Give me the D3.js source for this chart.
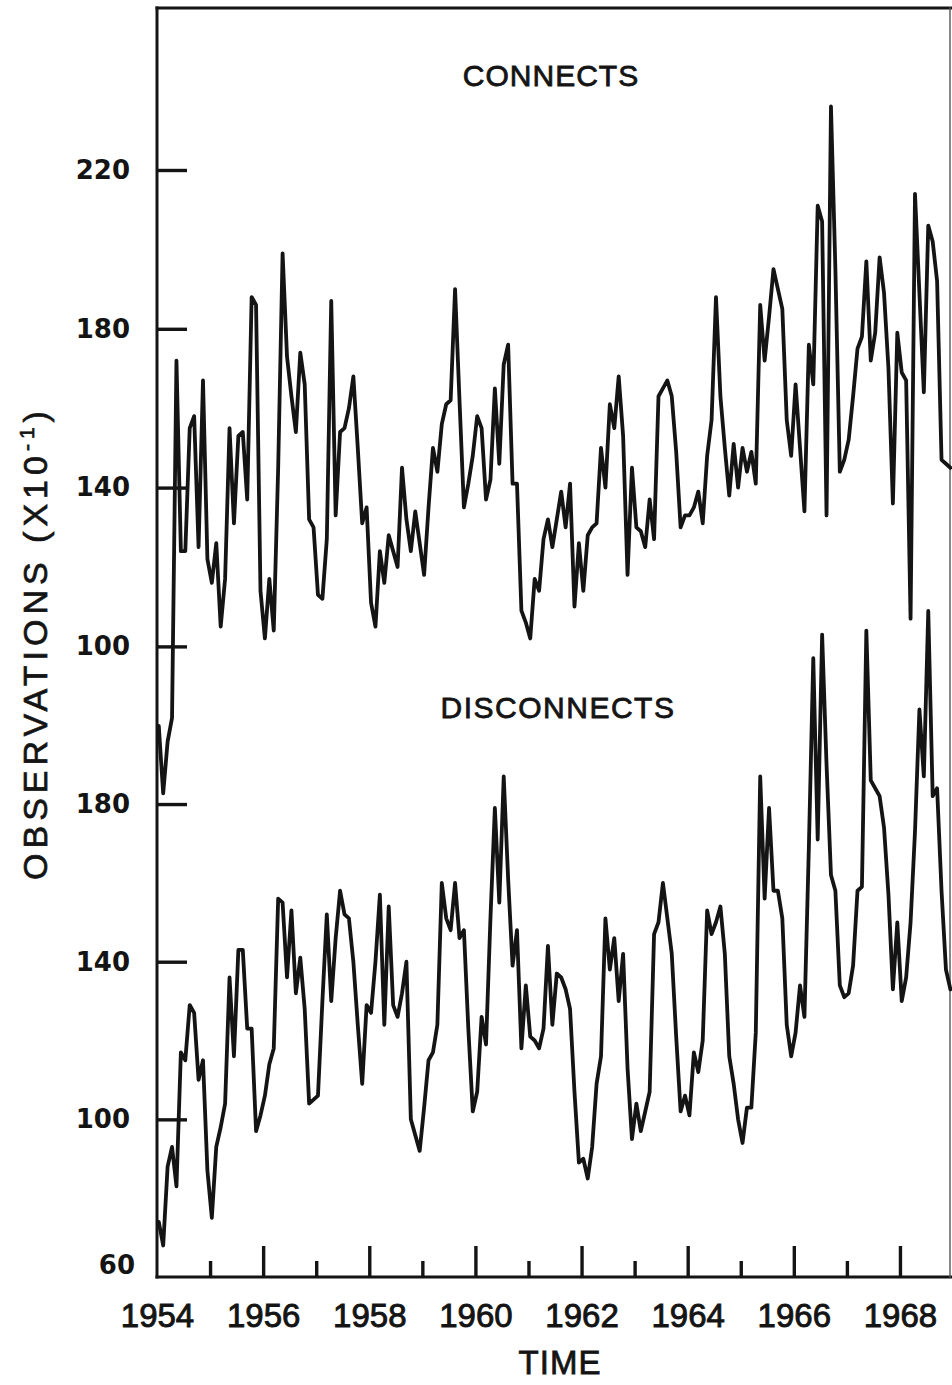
<!DOCTYPE html>
<html><head><meta charset="utf-8">
<script src="https://cdn.jsdelivr.net/npm/d3@7"></script>
<style>html,body{margin:0;padding:0;background:#fff}</style>
</head><body>
<svg id="chart" width="952" height="1385"></svg>
<script>
// ---- data ----
const startYear = 1954;
const labelYears = [1954, 1956, 1958, 1960, 1962, 1964, 1966, 1968];
const minorYears = [1955, 1957, 1959, 1961, 1963, 1965, 1967];
const upperTicks = [100, 140, 180, 220];
const lowerTicks = [60, 100, 140, 180];

// monthly values, Jan 1954 - Dec 1968 (x10^-1)
const connects = [
  80, 63, 76, 82, 172, 124, 124, 155, 158, 125, 167, 122,
  116, 126, 105, 117, 155, 131, 153, 154, 137, 188, 186, 114,
  102, 117, 104, 145, 199, 173, 163, 154, 174, 166, 132, 130,
  113, 112, 127, 187, 133, 154, 155, 160, 168, 150, 131, 135,
  111, 105, 124, 116, 128, 124, 120, 145, 132, 124, 134, 126,
  118, 135, 150, 144, 156, 161, 162, 190, 162, 135, 141, 148,
  158, 155, 137, 142, 165, 146, 171, 176, 141, 141, 109, 106,
  102, 117, 114, 127, 132, 125, 132, 139, 130, 141, 110, 126,
  114, 128, 130, 131, 150, 140, 161, 155, 168, 153, 118, 145,
  130, 129, 125, 137, 127, 163, 165, 167, 163, 149, 130, 133,
  133, 135, 139, 131, 148, 157, 188, 163, 150, 138, 151, 140,
  150, 144, 149, 141, 186, 172, 183, 195, 190, 185, 157, 148,
  166, 150, 134, 176, 166, 211, 207, 133, 236, 195, 144, 147,
  152, 163, 175, 178, 197, 172, 179, 198, 189, 170, 136, 179,
  169, 167, 107, 214, 189, 164, 206, 202, 192, 147, 146, 145
];
const disconnects = [
  74, 68, 88, 93, 83, 117, 115, 129, 127, 110, 115, 87,
  75, 93, 98, 104, 136, 116, 143, 143, 123, 123, 97, 101,
  106, 114, 118, 156, 155, 136, 153, 132, 141, 128, 104, 105,
  106, 130, 152, 130, 146, 158, 152, 151, 140, 124, 109, 129,
  127, 140, 157, 124, 154, 129, 126, 132, 140, 100, 96, 92,
  103, 115, 117, 124, 160, 151, 148, 160, 146, 148, 123, 102,
  107, 126, 119, 151, 179, 155, 187, 161, 139, 148, 118, 134,
  121, 120, 118, 123, 144, 124, 137, 136, 133, 128, 107, 89,
  90, 85, 93, 109, 116, 151, 138, 146, 130, 142, 113, 95,
  104, 97, 102, 107, 147, 150, 160, 151, 142, 121, 102, 106,
  101, 117, 112, 120, 153, 147, 150, 154, 142, 116, 109, 100,
  94, 103, 103, 122, 187, 156, 179, 158, 158, 151, 124, 116,
  122, 134, 126, 169, 217, 171, 223, 190, 162, 158, 134, 131,
  132, 139, 158, 159, 224, 186, 184, 182, 174, 157, 133, 150,
  130, 136, 150, 173, 204, 187, 229, 182, 184, 158, 138, 133
];

// ---- chart ----
const svg = d3.select('#chart');
svg.append('rect').attr('width', 952).attr('height', 1385).attr('fill', '#fff');

const x = d3.scaleLinear().domain([1954, 1968.943]).range([157, 950]);
const yU = d3.scaleLinear().domain([100, 220]).range([646.4, 170]);
const yL = d3.scaleLinear().domain([60, 220]).range([1277, 646.4]);
const tOf = i => startYear + (i + 0.4) / 12;

const ink = '#141414';

// frame
const frame = svg.append('g').attr('stroke', ink).attr('fill', 'none').attr('stroke-linecap', 'square');
frame.append('line').attr('x1', x(1954)).attr('x2', 952).attr('y1', 8).attr('y2', 8).attr('stroke-width', 3);
frame.append('line').attr('x1', x(1954)).attr('x2', x(1954)).attr('y1', 8).attr('y2', yL(60)).attr('stroke-width', 3);
frame.append('line').attr('x1', x(1954)).attr('x2', 952).attr('y1', yL(60)).attr('y2', yL(60)).attr('stroke-width', 3);
frame.append('line').attr('x1', 950).attr('x2', 950).attr('y1', 8).attr('y2', yL(60)).attr('stroke-width', 1.4).attr('stroke', '#555');

function styleAxis(g) {
  g.select('.domain').remove();
  g.selectAll('.tick line').attr('stroke', ink).attr('stroke-width', 3.4);
}

// y axes
const yAxU = svg.append('g').attr('transform', `translate(${x(1954)},0)`)
  .call(d3.axisLeft(yU).tickValues(upperTicks).tickSize(-30).tickPadding(27).tickFormat(d3.format('d')));
styleAxis(yAxU);
const yAxL = svg.append('g').attr('transform', `translate(${x(1954)},0)`)
  .call(d3.axisLeft(yL).tickValues(lowerTicks).tickSize(-30).tickPadding(27).tickFormat(d3.format('d')));
styleAxis(yAxL);
[yAxU, yAxL].forEach(g => g.selectAll('.tick text')
  .attr('font-family', 'DejaVu Sans').attr('font-weight', 'bold').attr('font-size', 26).attr('fill', ink));
yAxL.selectAll('.tick').filter(d => d === 60).select('line').remove();
yAxL.selectAll('.tick').filter(d => d === 60).select('text').attr('dy', '-0.15em').attr('x', -22);

// x axes
const xAxMajor = svg.append('g').attr('transform', `translate(0,${yL(60)})`)
  .call(d3.axisBottom(x).tickValues(labelYears).tickSize(-31).tickPadding(27).tickFormat(d3.format('d')));
styleAxis(xAxMajor);
xAxMajor.selectAll('.tick text').attr('font-family', 'Liberation Sans').attr('font-size', 33)
  .attr('fill', ink).attr('stroke', ink).attr('stroke-width', 0.9);
xAxMajor.selectAll('.tick').filter(d => d === 1954).select('line').remove();
const xAxMinor = svg.append('g').attr('transform', `translate(0,${yL(60)})`)
  .call(d3.axisBottom(x).tickValues(minorYears).tickSize(-16).tickFormat(''));
styleAxis(xAxMinor);

// series
const lineU = d3.line().x((d, i) => x(tOf(i))).y(d => yU(d));
const lineL = d3.line().x((d, i) => x(tOf(i))).y(d => yL(d));
svg.append('path').datum(connects).attr('d', lineU).attr('fill', 'none').attr('stroke', ink)
  .attr('stroke-width', 3.8).attr('stroke-linejoin', 'round').attr('stroke-linecap', 'round');
svg.append('path').datum(disconnects).attr('d', lineL).attr('fill', 'none').attr('stroke', ink)
  .attr('stroke-width', 3.8).attr('stroke-linejoin', 'round').attr('stroke-linecap', 'round');

// labels
const lbl = (txt, cx, cy, size, ls) => svg.append('text').text(txt).attr('x', cx).attr('y', cy)
  .attr('text-anchor', 'middle').attr('font-family', 'Liberation Sans').attr('font-size', size)
  .attr('letter-spacing', ls).attr('fill', ink).attr('stroke', ink).attr('stroke-width', 0.8);
lbl('CONNECTS', 551, 86, 30, 1);
lbl('DISCONNECTS', 558, 718, 30, 1.5);
lbl('TIME', 560, 1374, 33, 1);

const yt = svg.append('text').attr('transform', 'translate(47,643) rotate(-90)')
  .attr('text-anchor', 'middle').attr('font-family', 'Liberation Sans').attr('font-size', 34)
  .attr('letter-spacing', 5).attr('fill', ink).attr('stroke', ink).attr('stroke-width', 0.7);
yt.append('tspan').text('OBSERVATIONS (X10');
yt.append('tspan').text('-1').attr('font-size', 21).attr('dy', -13);
yt.append('tspan').text(')').attr('dy', 13);
</script>
</body></html>
